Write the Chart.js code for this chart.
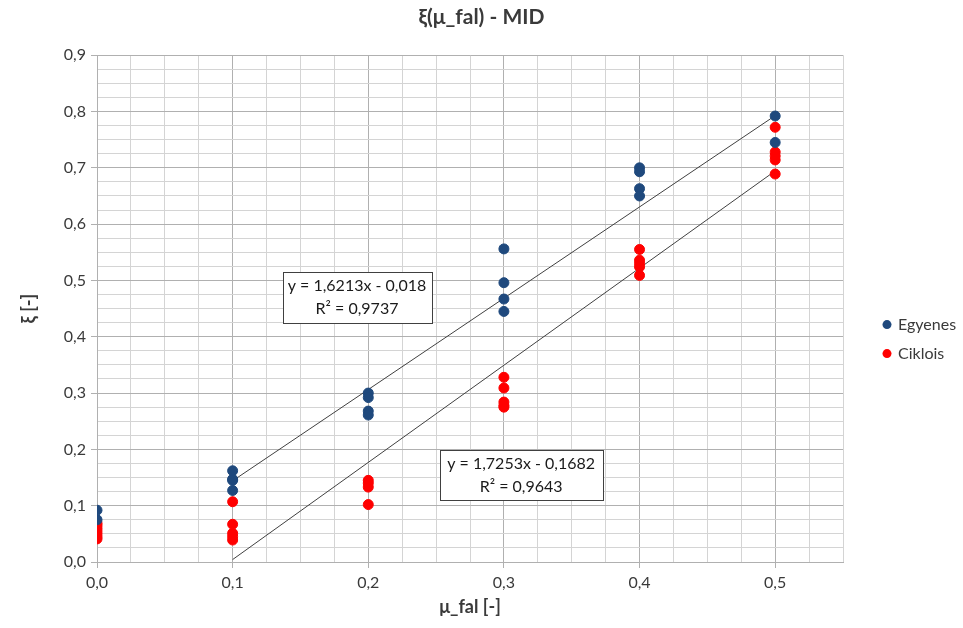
<!DOCTYPE html>
<html>
<head>
<meta charset="utf-8">
<script src="https://cdn.jsdelivr.net/npm/chart.js@4.4.1/dist/chart.umd.min.js"></script>
<style>
    html, body { margin: 0; padding: 0; background: #fff; }
    #wrap { width: 963px; height: 628px; }
</style>
</head>
<body>
<div id="wrap"><canvas id="chart1" width="963" height="628"></canvas></div>
<script>
const egyenesX = [0, 0, 0.1, 0.1, 0.1, 0.1, 0.2, 0.2, 0.2, 0.2, 0.3, 0.3, 0.3, 0.3, 0.4, 0.4, 0.4, 0.4, 0.5, 0.5];
const egyenesY = [0.092, 0.075, 0.162, 0.147, 0.145, 0.127, 0.300, 0.292, 0.268, 0.261, 0.556, 0.496, 0.467, 0.445, 0.700, 0.693, 0.663, 0.650, 0.792, 0.745];
const cikloisX = [0, 0, 0, 0, 0, 0, 0, 0.1, 0.1, 0.1, 0.1, 0.1, 0.2, 0.2, 0.2, 0.2, 0.3, 0.3, 0.3, 0.3, 0.3, 0.4, 0.4, 0.4, 0.4, 0.4, 0.5, 0.5, 0.5, 0.5, 0.5];
const cikloisY = [0.069, 0.065, 0.060, 0.055, 0.050, 0.045, 0.041, 0.107, 0.067, 0.051, 0.045, 0.039, 0.145, 0.140, 0.133, 0.102, 0.328, 0.309, 0.284, 0.278, 0.275, 0.555, 0.536, 0.530, 0.524, 0.509, 0.772, 0.728, 0.721, 0.714, 0.689];

// trend lines (from the equations printed on the chart)
const trendRange = [0.1, 0.5];
const egyenesFit = {slope: 1.6213, intercept: -0.018, label: ['y = 1,6213x - 0,018', 'R² = 0,9737']};
const cikloisFit = {slope: 1.7253, intercept: -0.1682, label: ['y = 1,7253x - 0,1682', 'R² = 0,9643']};

const FONT = 'Lato, "Open Sans", sans-serif';
const TEXT = '#3a3a3a';

function points(xs, ys) {
    return xs.map((x, i) => ({x: x, y: ys[i]}));
}

function fitLine(fit) {
    return trendRange.map(x => ({x: x, y: fit.slope * x + fit.intercept}));
}

function isMajor(v) {
    return Math.abs(v * 10 - Math.round(v * 10)) < 1e-6;
}

function commaLabel(v) {
    return isMajor(v) ? v.toFixed(1).replace('.', ',') : '';
}

// draws the two equation boxes, anchored in data coordinates
const eqBoxes = {
    id: 'eqBoxes',
    afterDatasetsDraw(chart) {
        const ctx = chart.ctx;
        const xs = chart.scales.x, ys = chart.scales.y;
        const boxes = [
            {fit: egyenesFit, x: 0.1917, y: 0.470, w: 149, h: 51},
            {fit: cikloisFit, x: 0.3127, y: 0.154, w: 163, h: 50}
        ];
        ctx.save();
        ctx.font = '16px ' + FONT;
        ctx.textAlign = 'center';
        ctx.textBaseline = 'middle';
        boxes.forEach(b => {
            const cx = xs.getPixelForValue(b.x);
            const cy = ys.getPixelForValue(b.y);
            const left = Math.round(cx - b.w / 2) + 0.5;
            const top = Math.round(cy - b.h / 2) + 0.5;
            ctx.fillStyle = '#ffffff';
            ctx.fillRect(left, top, b.w, b.h);
            ctx.strokeStyle = '#404040';
            ctx.lineWidth = 1;
            ctx.strokeRect(left, top, b.w, b.h);
            ctx.fillStyle = '#1a1a1a';
            ctx.fillText(b.fit.label[0], cx, cy - 11);
            ctx.fillText(b.fit.label[1], cx, cy + 12);
        });
        ctx.restore();
    }
};

// simple legend to the right of the plot, only the two measured series
const sideLegend = {
    id: 'sideLegend',
    afterDraw(chart) {
        const ctx = chart.ctx;
        const area = chart.chartArea;
        const mid = (area.top + area.bottom) / 2;
        ctx.save();
        ctx.font = '16px ' + FONT;
        ctx.textBaseline = 'middle';
        ctx.textAlign = 'left';
        chart.data.datasets.slice(0, 2).forEach((ds, i) => {
            const y = mid + 16 + i * 29;
            const x = area.right + 44;
            ctx.fillStyle = ds.backgroundColor;
            ctx.beginPath();
            ctx.arc(x, y, 4.5, 0, Math.PI * 2);
            ctx.fill();
            ctx.fillStyle = TEXT;
            ctx.fillText(ds.label, x + 11, y);
        });
        ctx.restore();
    }
};

const gridColor = ctx => (ctx.tick && isMajor(ctx.tick.value)) ? '#b0b0b0' : '#d4d4d4';
const tickMarkColor = ctx => (ctx.tick && isMajor(ctx.tick.value)) ? '#b0b0b0' : 'rgba(0,0,0,0)';

const chart1 = document.getElementById('chart1');
new Chart(chart1, {
    type: 'scatter',
    data: {
        datasets: [{
            label: 'Egyenes',
            data: points(egyenesX, egyenesY),
            backgroundColor: '#1f497d',
            borderColor: '#1f497d',
            pointRadius: 5,
            pointHoverRadius: 5
        },
            {
                label: 'Ciklois',
                data: points(cikloisX, cikloisY),
                backgroundColor: '#ff0000',
                borderColor: '#ff0000',
                pointRadius: 5,
                pointHoverRadius: 5
            },
            {
                label: 'trend1',
                data: fitLine(egyenesFit),
                showLine: true,
                borderColor: '#404040',
                borderWidth: 1,
                pointRadius: 0
            },
            {
                label: 'trend2',
                data: fitLine(cikloisFit),
                showLine: true,
                borderColor: '#404040',
                borderWidth: 1,
                pointRadius: 0
            }
        ]
    },
    options: {
        responsive: false,
        animation: false,
        layout: {
            padding: {left: 0, right: 0, top: 0, bottom: 6}
        },
        plugins: {
            title: {
                display: true,
                text: 'ξ(μ_fal) - MID',
                color: TEXT,
                font: {family: FONT, size: 21, weight: 'bold'},
                padding: {top: 5, bottom: 25}
            },
            legend: {display: false},
            tooltip: {enabled: false}
        },
        scales: {
            x: {
                type: 'linear',
                min: 0,
                max: 0.55,
                afterFit: scale => { scale.height = 60; },
                ticks: {
                    stepSize: 0.025,
                    autoSkip: false,
                    maxRotation: 0,
                    callback: commaLabel,
                    color: TEXT,
                    font: {family: FONT, size: 16},
                    padding: 5
                },
                grid: {
                    color: gridColor,
                    tickColor: tickMarkColor,
                    tickLength: 6
                },
                border: {color: '#b0b0b0'},
                title: {
                    display: true,
                    text: 'μ_fal [-]',
                    color: TEXT,
                    font: {family: FONT, size: 18, weight: 'bold'},
                    padding: {top: 0}
                }
            },
            y: {
                type: 'linear',
                min: 0,
                max: 0.9,
                afterFit: scale => { scale.width = 97; },
                ticks: {
                    stepSize: 0.025,
                    autoSkip: false,
                    callback: commaLabel,
                    color: TEXT,
                    font: {family: FONT, size: 16},
                    padding: 5
                },
                grid: {
                    color: gridColor,
                    tickColor: tickMarkColor,
                    tickLength: 6
                },
                border: {color: '#b0b0b0'},
                title: {
                    display: true,
                    text: 'ξ [-]',
                    color: TEXT,
                    font: {family: FONT, size: 18, weight: 'bold'},
                    padding: {top: 18}
                }
            },
            // empty axis that only reserves the room for the legend on the right
            legendSpace: {
                type: 'linear',
                position: 'right',
                min: 0,
                max: 1,
                afterFit: scale => { scale.width = 120; },
                ticks: {display: false},
                grid: {display: false, drawOnChartArea: false},
                border: {display: false}
            }
        }
    },
    plugins: [eqBoxes, sideLegend]
});
</script>
</body>
</html>
